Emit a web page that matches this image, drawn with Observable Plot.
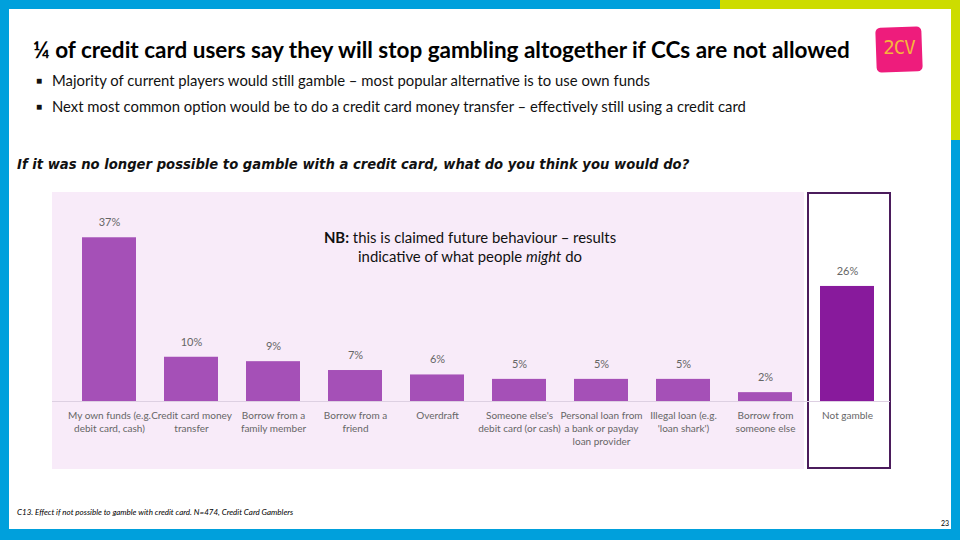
<!DOCTYPE html>
<html>
<head>
<meta charset="utf-8">
<script src="https://cdn.jsdelivr.net/npm/d3@7"></script>
<script src="https://cdn.jsdelivr.net/npm/@observablehq/plot@0.6"></script>
<style>
  html, body { margin: 0; padding: 0; }
  body { width: 960px; height: 540px; position: relative; overflow: hidden; background: #fff; font-family: Lato, "Open Sans", sans-serif; }
  .abs { position: absolute; }
  #title { left: 33px; top: 36px; font-size: 22.5px; font-weight: bold; color: #000; white-space: nowrap; }
  .bullet { left: 36px; font-size: 14.85px; color: #111; white-space: nowrap; }
  .bullet span.b { display: inline-block; width: 16px; font-size: 10px; vertical-align: 2px; }
  #question { left: 17px; top: 157px; font-family: "DejaVu Sans", sans-serif; font-size: 13.2px; font-weight: bold; font-style: italic; color: #111; white-space: nowrap; }
  #nb { left: 270px; top: 228px; width: 400px; text-align: center; font-size: 14.9px; line-height: 19px; color: #111; }
  #footer { left: 17px; top: 507px; font-size: 8px; font-style: italic; color: #000; white-space: nowrap; }
  #page { left: 941px; top: 519px; font-size: 7px; color: #000; }
  #chart { left: 0; top: 192px; }
</style>
</head>
<body>
<!-- frame -->
<div class="abs" style="left:0;top:0;width:9px;height:540px;background:#00a0dc"></div>
<div class="abs" style="left:0;top:0;width:720px;height:9px;background:#00a0dc"></div>
<div class="abs" style="left:720px;top:0;width:240px;height:9px;background:#cddc00"></div>
<div class="abs" style="left:951px;top:0;width:9px;height:140px;background:#cddc00"></div>
<div class="abs" style="left:951px;top:140px;width:9px;height:400px;background:#00a0dc"></div>
<div class="abs" style="left:0;top:529px;width:960px;height:11px;background:#00a0dc"></div>

<!-- logo -->
<div class="abs" style="left:876px;top:27px;width:46px;height:45px;background:#ee1c7c;border-radius:5px;transform:rotate(-2deg);"></div>
<div class="abs" style="left:876px;top:36px;width:46px;text-align:center;font-family:'DejaVu Sans Mono',monospace;font-size:19px;color:#f6b43c;letter-spacing:-1px;">2CV</div>

<div id="title" class="abs">¼ of credit card users say they will stop gambling altogether if CCs are not allowed</div>
<div class="abs bullet" style="top:71px"><span class="b">■</span>Majority of current players would still gamble – most popular alternative is to use own funds</div>
<div class="abs bullet" style="top:97px"><span class="b">■</span>Next most common option would be to do a credit card money transfer – effectively still using a credit card</div>
<div id="question" class="abs">If it was no longer possible to gamble with a credit card, what do you think you would do?</div>

<!-- chart backgrounds -->
<div class="abs" style="left:52px;top:192px;width:752px;height:277px;background:#f8ebf9"></div>
<div class="abs" style="left:807px;top:192px;width:80px;height:273px;border:2px solid #4b1c5c;background:#fff"></div>

<div id="chart" class="abs"></div>
<div id="nb" class="abs"><b>NB:</b> this is claimed future behaviour – results<br>indicative of what people <i>might</i> do</div>

<div id="footer" class="abs">C13. Effect if not possible to gamble with credit card. N=474, Credit Card Gamblers</div>
<div id="page" class="abs">23</div>

<script>
const categories = [
  "My own funds (e.g.\ndebit card, cash)",
  "Credit card money\ntransfer",
  "Borrow from a\nfamily member",
  "Borrow from a\nfriend",
  "Overdraft",
  "Someone else's\ndebit card (or cash)",
  "Personal loan from\na bank or payday\nloan provider",
  "Illegal loan (e.g.\n'loan shark')",
  "Borrow from\nsomeone else",
  "Not gamble"
];
const values = [37, 10, 9, 7, 6, 5, 5, 5, 2, 26];
const groups = ["gamble", "gamble", "gamble", "gamble", "gamble", "gamble", "gamble", "gamble", "gamble", "not"];

const data = categories.map((c, i) => ({category: c, value: values[i], group: groups[i]}));

const chart = Plot.plot({
  width: 960,
  height: 280,
  marginLeft: 67,
  marginRight: 70,
  marginTop: 32,
  marginBottom: 71,
  style: {background: "transparent", fontFamily: "Lato, 'Open Sans', sans-serif"},
  x: {domain: categories, paddingInner: 0.34, paddingOuter: 0.17, label: null},
  y: {domain: [0, 40], axis: null},
  color: {domain: ["gamble", "not"], range: ["#a550b7", "#881a9c"]},
  marks: [
    Plot.ruleY([0], {stroke: "#ddd0e2", strokeWidth: 1, insetLeft: -15}),
    Plot.barY(data, {x: "category", y: "value", fill: "group"}),
    Plot.text(data, {x: "category", y: "value", text: d => d.value + "%", dy: -15, fontSize: 11, fill: "#666666"}),
    Plot.axisX({tickSize: 0, tickPadding: 8, fontSize: 10, fill: "#666666", lineHeight: 1.3, label: null})
  ]
});
document.getElementById("chart").appendChild(chart);
</script>
</body>
</html>
